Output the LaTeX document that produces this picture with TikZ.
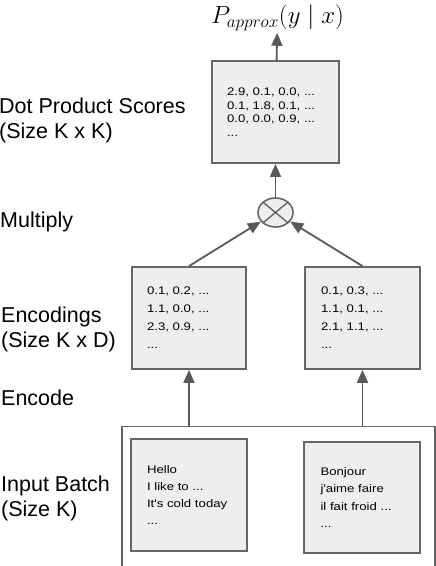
\documentclass[tikz,border=0pt]{standalone}
\usepackage{fontspec}
\setmainfont{Liberation Sans}
\newfontfamily\boxfont[FakeStretch=1.2]{Liberation Sans}
\usetikzlibrary{arrows.meta,shapes.geometric}

\definecolor{linegray}{HTML}{595959}
\definecolor{boxline}{HTML}{666666}
\definecolor{boxfill}{HTML}{EEEEEE}

\begin{document}
\begin{tikzpicture}[x=1pt,y=-1pt,
    side/.style={inner sep=0pt,align=left,font=\fontsize{21.5}{25}\selectfont},
    databox/.style={draw=boxline,fill=boxfill,line width=1.8pt,inner sep=0pt,align=left,minimum height=102pt},
    conn/.style={draw=linegray,line width=1.8pt,-{Triangle[length=13pt,width=11pt]}}]
   \useasboundingbox (0,0) rectangle (436,566);

   % labels on the left
   \node[side,anchor=west] (lscores) at (-1,120) {Dot Product Scores\\(Size K x K)};
   \node[side,anchor=base west] (lmult) at (0,227) {Multiply};
   \node[side,anchor=west] (lenc) at (1,329) {Encodings\\(Size K x D)};
   \node[side,anchor=base west] (lencode) at (1,405.5) {Encode};
   \node[side,anchor=west] (linput) at (1,498.6) {Input Batch\\(Size K)};

   % output
   \node[anchor=base,inner sep=0pt,font=\fontsize{23.5}{28}\selectfont] (out) at (277.5,23.5) {$P_{approx}(y\mid x)$};

    \node[databox,minimum width=127pt,text width=97pt,font=\boxfont\fontsize{11}{13.6}\selectfont] (scores) at (275.5,112)
      {2.9, 0.1, 0.0, ...\\0.1, 1.8, 0.1, ...\\0.0, 0.0, 0.9, ...\\...};
    \node[ellipse,draw=boxline,fill=boxfill,line width=1.6pt,minimum width=35pt,minimum height=29pt,
      path picture={\draw[boxline,line width=1.4pt] (path picture bounding box.north west) -- (path picture bounding box.south east)
        (path picture bounding box.south west) -- (path picture bounding box.north east);}] (mult) at (275.5,212.5) {};

    \node[databox,minimum width=114pt,text width=84pt,font=\boxfont\fontsize{11}{18}\selectfont] (enc1) at (189,318)
      {0.1, 0.2, ...\\1.1, 0.0, ...\\2.3, 0.9, ...\\...};
    \node[databox,minimum width=115pt,text width=83pt,font=\boxfont\fontsize{11}{18}\selectfont] (enc2) at (362.5,318)
      {0.1, 0.3, ...\\1.1, 0.1, ...\\2.1, 1.1, ...\\...};

    \node[draw=boxline,line width=1.8pt,minimum width=313pt,minimum height=150pt,anchor=north west] (batch) at (121,425.5) {};
    \node[databox,minimum width=116pt,minimum height=112pt,text width=84pt,font=\boxfont\fontsize{11}{16.8}\selectfont] (in1) at (189,495)
      {Hello\\I like to ...\\It's cold today\\...};
    \node[databox,minimum width=116pt,minimum height=111pt,text width=83pt,font=\boxfont\fontsize{11}{17.3}\selectfont] (in2) at (362,497.5)
      {Bonjour\\j'aime faire\\il fait froid ...\\...};

    \path (enc1 |- batch.north) edge[conn] (enc1);
    \path (enc2 |- batch.north) edge[conn] (enc2);
    \path (enc1.north) edge[conn] (mult);
    \path (enc2.north) edge[conn] (mult);
    \path (mult) edge[conn] (scores);
    \path (scores) edge[conn,shorten >=2pt] (out);
\end{tikzpicture}
\end{document}
